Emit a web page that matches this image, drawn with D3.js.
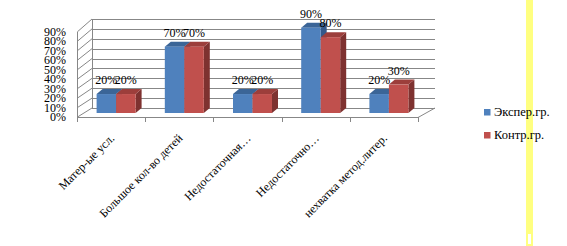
<!DOCTYPE html>
<html lang="ru">
<head>
<meta charset="UTF-8">
<script src="https://d3js.org/d3.v7.min.js"></script>
<style>
  body { margin: 0; background: #fff; }
  svg { display: block; }
  text { font-family: "Times New Roman", "Liberation Serif", "DejaVu Serif", serif; font-size: 12px; fill: #000; }
</style>
</head>
<body>
<svg width="567" height="246"></svg>
<script>
const categories = ["Матер-ые усл.", "Большое кол-во детей", "Недостаточная…", "Недостаточно…", "нехватка метод.литер."];
const seriesNames = ["Экспер.гр.", "Контр.гр."];
const experValues = [0.2, 0.7, 0.2, 0.9, 0.2];
const kontrValues = [0.2, 0.7, 0.2, 0.8, 0.3];
const yTicks = [0, 0.1, 0.2, 0.3, 0.4, 0.5, 0.6, 0.7, 0.8, 0.9];

const colors = ["#4F81BD", "#C0504D"];
const topColors = ["#3B6597", "#9C3E3B"];
const sideColors = ["#34598A", "#7E3230"];

const svg = d3.select("svg");

// yellow strip on the right
svg.append("rect").attr("x", 526).attr("y", 0).attr("width", 7).attr("height", 233).attr("fill", "#FFFF80");
svg.append("rect").attr("x", 527).attr("y", 233).attr("width", 5).attr("height", 12)
  .attr("fill", "#fff").attr("stroke", "#FFFF80").attr("stroke-width", 2);

// scales: front plane and back wall
const x = d3.scaleBand().domain(categories).range([77, 418]);
const yFront = d3.scaleLinear().domain([0, 0.9]).range([117, 31.7]);
const yBack = d3.scaleLinear().domain([0, 0.9]).range([108, 19]);
const wallDx = 15;

const grid = svg.append("g").attr("stroke", "#878787").attr("stroke-width", 1).attr("fill", "none");

// back wall gridlines
grid.selectAll("line.back").data(yTicks).join("line")
  .attr("x1", 77 + wallDx).attr("x2", 435)
  .attr("y1", d => Math.round(yBack(d)) + 0.5).attr("y2", d => Math.round(yBack(d)) + 0.5);

// side wall diagonals
grid.selectAll("line.side").data(yTicks).join("line")
  .attr("x1", 77.5).attr("y1", d => yFront(d))
  .attr("x2", 77 + wallDx).attr("y2", d => yBack(d));

// back wall left edge
grid.append("line").attr("x1", 92.5).attr("x2", 92.5).attr("y1", yBack(0)).attr("y2", yBack(0.9));
// front vertical axis
grid.append("line").attr("x1", 77.5).attr("x2", 77.5).attr("y1", yFront(0)).attr("y2", yFront(0.9));
// floor front edge and right edge
grid.append("line").attr("x1", 77).attr("x2", 418).attr("y1", 117.5).attr("y2", 117.5);
grid.append("line").attr("x1", 418).attr("y1", 117.5).attr("x2", 435).attr("y2", yBack(0));

// category ticks
const tickXs = categories.map(c => x(c)).concat([x.range()[1]]);
grid.selectAll("line.tick").data(tickXs).join("line")
  .attr("x1", d => Math.round(d) + 0.5).attr("x2", d => Math.round(d) + 0.5)
  .attr("y1", 117).attr("y2", 122);

// y labels
svg.append("g").selectAll("text").data(yTicks).join("text")
  .attr("x", 66).attr("y", d => yFront(d)).attr("dy", "0.35em")
  .attr("text-anchor", "end")
  .text(d => d3.format(".0%")(d));

// bars
const barW = 19.5, bdx = 6, bdy = -5, shift = -4;
const series = [experValues, kontrValues];
const bars = svg.append("g");
series.forEach((vals, si) => {
  vals.forEach((v, i) => {
    const bx = x(categories[i]) + x.bandwidth() / 2 + 5 - barW + si * barW;
    const yt = yFront(v) + shift, yb = yFront(0) + shift;
    const g = bars.append("g");
    g.append("polygon")
      .attr("points", [[bx + barW, yt], [bx + barW + bdx, yt + bdy], [bx + barW + bdx, yb + bdy], [bx + barW, yb]].join(" "))
      .attr("fill", sideColors[si]);
    g.append("polygon")
      .attr("points", [[bx, yt], [bx + barW, yt], [bx + barW + bdx, yt + bdy], [bx + bdx, yt + bdy]].join(" "))
      .attr("fill", topColors[si]);
    g.append("rect").attr("x", bx).attr("y", yt).attr("width", barW).attr("height", yb - yt)
      .attr("fill", colors[si]);
  });
});

// data labels
series.forEach((vals, si) => {
  svg.append("g").selectAll("text").data(vals).join("text")
    .attr("x", (d, i) => x(categories[i]) + x.bandwidth() / 2 + 5 - barW + si * barW + barW / 2)
    .attr("y", d => yFront(d) + shift - 10)
    .attr("text-anchor", "middle")
    .text(d => d3.format(".0%")(d));
});

// category labels
svg.append("g").selectAll("text").data(categories).join("text")
  .attr("text-anchor", "end")
  .attr("transform", d => `translate(${x(d) + x.bandwidth() / 2 + 4},139) rotate(-45)`)
  .text(d => d);

// legend
const legend = svg.append("g");
seriesNames.forEach((name, i) => {
  legend.append("rect").attr("x", 484).attr("y", 109 + i * 23).attr("width", 6.5).attr("height", 6.5).attr("fill", colors[i]);
  legend.append("text").attr("x", 494).attr("y", 116 + i * 23).style("font-size", "12.5px").text(name);
});
</script>
</body>
</html>
